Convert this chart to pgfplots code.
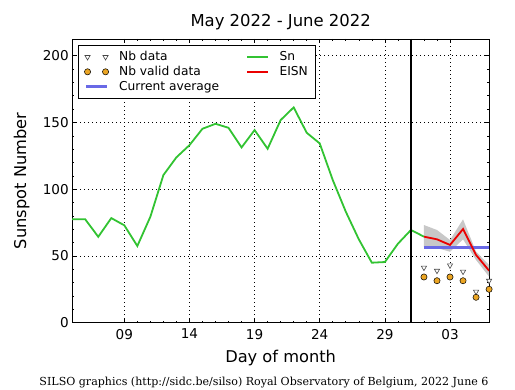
\documentclass[border=0pt]{standalone}
\usepackage{pgfplots}
\pgfplotsset{compat=1.18}
\usepackage{fontspec}
\setmainfont{DejaVu Sans}
\newfontfamily\footfont{DejaVu Serif}
\definecolor{snGreen}{RGB}{50,195,50}
\definecolor{eisnRed}{RGB}{235,0,0}
\definecolor{avgBlue}{RGB}{105,105,230}
\definecolor{nbOrange}{RGB}{235,165,35}
\definecolor{bandGray}{RGB}{200,200,200}
\definecolor{triEdge}{RGB}{70,70,70}

\begin{document}
\begin{tikzpicture}
\path[use as bounding box] (0,0) rectangle (515bp,390bp);
\begin{axis}[
  at={(72.2bp,67.2bp)}, anchor=south west,
  scale only axis, width=416.9bp, height=283.8bp,
  xmin=5, xmax=37, ymin=0, ymax=212.5,
  xtick={9,14,19,24,29,34}, xticklabels={09,14,19,24,29,03},
  minor x tick num=4,
  ytick={0,50,100,150,200}, minor y tick num=4,
  tick align=inside, major tick length=4bp, minor tick length=2bp,
  tick style={black, line width=0.6bp},
  grid=major, grid style={black, line width=0.6bp, dash pattern=on 1bp off 3bp},
  axis line style={line width=0.9bp},
  /pgf/number format/assume math mode=true,
  ticklabel style={font=\fontsize{13.6}{16}\selectfont},
  xticklabel style={yshift=-2.7bp},
  title={May 2022 - June 2022},
  title style={font=\fontsize{16.5}{19}\selectfont, at={(axis description cs:0.5,1.0247)}, anchor=base},
  xlabel={Day of month},
  xlabel style={font=\fontsize{16.3}{19}\selectfont, at={(axis description cs:0.5,-0.1406)}, anchor=base},
  ylabel={Sunspot Number},
  ylabel style={font=\fontsize{16.3}{19}\selectfont, at={(axis description cs:-0.1108,0.5)}, anchor=base},
  legend columns=2,
  legend cell align=left,
  legend style={at={(axis description cs:0.0139,0.980)}, anchor=north west,
    draw=black, line width=0.9bp, font=\fontsize{12.3}{14}\selectfont,
    inner xsep=6bp, inner ysep=4.5bp, row sep=0bp,
    /tikz/every odd column/.append style={column sep=8.5bp},
    /tikz/every even column/.append style={column sep=25bp}},
]
% legend entries (custom order, row-major)
\addlegendimage{legend image code/.code={\draw[only marks, mark=triangle*, mark size=3bp, mark options={rotate=180, fill=white, draw=triEdge, line width=0.6bp}] plot coordinates {(1.5bp,0bp) (19.5bp,0bp)};}}
\addlegendentry{Nb data}
\addlegendimage{legend image code/.code={\draw[draw=snGreen, line width=1.8bp] (0bp,0bp) -- (21bp,0bp);}}
\addlegendentry{Sn}
\addlegendimage{legend image code/.code={\draw[only marks, mark=*, mark size=3.1bp, mark options={fill=nbOrange, draw=black, line width=0.5bp}] plot coordinates {(1.5bp,0bp) (19.5bp,0bp)};}}
\addlegendentry{Nb valid data}
\addlegendimage{legend image code/.code={\draw[draw=eisnRed, line width=1.8bp] (0bp,0bp) -- (21bp,0bp);}}
\addlegendentry{EISN}
\addlegendimage{legend image code/.code={\draw[draw=avgBlue, line width=3bp] (0bp,0bp) -- (21bp,0bp);}}
\addlegendentry{Current average}

% uncertainty band of EISN
\addplot[fill=bandGray, draw=none, forget plot] coordinates {
 (32,73.2) (33,69.5) (34,62.0) (35,77.5) (36,53.2) (37,43.3)
 (37,34.5) (36,47.0) (35,62.5) (34,53.2) (33,56.0) (32,57.0)
};
% current average
\addplot[avgBlue, line width=3bp, forget plot] coordinates {(32,56.5) (37,56.5)};
% Sn
\addplot[snGreen, line width=1.8bp, forget plot] coordinates {
 (5,77.5) (6,77.5) (7,64.4) (8,78.4) (9,73.0) (10,57.5) (11,79.4) (12,110.6)
 (13,123.9) (14,133.0) (15,145.3) (16,149.0) (17,146.0) (18,131.3) (19,144.3)
 (20,130.3) (21,151.8) (22,161.3) (23,142.3) (24,134.3) (25,106.9) (26,83.2)
 (27,62.5) (28,45.0) (29,45.5) (30,59.2) (31,69.5) (32,64.5)
};
% EISN
\addplot[eisnRed, line width=1.8bp, forget plot] coordinates {
 (32,64.5) (33,62.5) (34,58.3) (35,70.2) (36,50.8) (37,39.0)
};
% Nb data
\addplot[only marks, mark=triangle*, mark size=3bp, mark options={rotate=180, fill=white, draw=triEdge, line width=0.6bp}, forget plot] coordinates {
 (32,41.3) (33,39.0) (34,43.0) (35,38.3) (36,23.3) (37,31.5)
};
% Nb valid data
\addplot[only marks, mark=*, mark size=3.1bp, mark options={fill=nbOrange, draw=black, line width=0.5bp}, forget plot] coordinates {
 (32,34.3) (33,31.5) (34,34.3) (35,31.5) (36,19.1) (37,25.1)
};
% separator at end of month
\addplot[black, line width=1.2bp, forget plot] coordinates {(31,0) (31,212.5)};
\end{axis}
\node[font=\footfont\fontsize{11.1}{13}\selectfont, anchor=base] at (264bp,4.5bp)
  {SILSO graphics (http://sidc.be/silso) Royal Observatory of Belgium, 2022 June 6};
\end{tikzpicture}
\end{document}
